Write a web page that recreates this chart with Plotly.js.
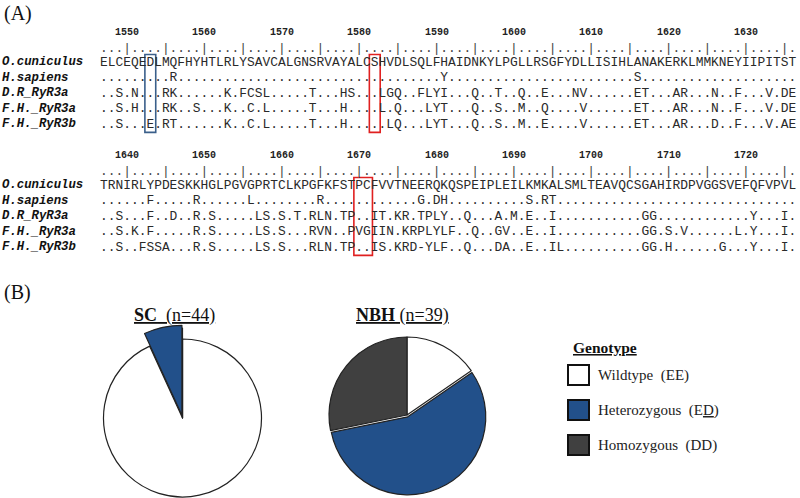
<!DOCTYPE html>
<html><head><meta charset="utf-8">
<script src="https://cdn.plot.ly/plotly-3.0.1.min.js"></script>
<style>html,body{margin:0;padding:0;overflow:hidden;background:#fff}#chart{width:800px;height:520px}</style>
</head><body><div id="chart"></div>
<script>
// ---------------- data ----------------
const species = ["O.cuniculus", "H.sapiens", "D.R_RyR3a", "F.H._RyR3a", "F.H._RyR3b"];
const block1Start = 1547;
const block1Rows = [
  ["ELCEQEDLMQ","FHYHTLRLYS","AVCALGNSRV","AYALCSHVDL","SQLFHAIDNK","YLPGLLRSGF","YDLLISIHLA","NAKERKLMMK","NEYIIPITST"],
  [".........R","..........","..........","..........","....Y.....","..........",".........S","..........",".........."],
  ["..S.N...RK","......K.FC","SL.....T..",".HS...LGQ.",".FLYI...Q.",".T..Q..E..",".NV......E","T...AR...N","..F...V.DE"],
  ["..S.H...RK","..S...K..C",".L.....T..",".H....L.Q.","..LYT...Q.",".S..M..Q..","..V......E","T...AR...N","..F...V.DE"],
  ["..S...E.RT","......K..C",".L.....T..",".H.....LQ.","..LYT...Q.",".S..M..E..","..V......E","T...AR...D","..F...V.AE"]
];
const block2Start = 1637;
const block2Rows = [
  ["TRNIRLYPDE","SKKHGLPGVG","PRTCLKPGFK","FSTPCFVVTN","EERQKQSPEI","PLEILKMKAL","SMLTEAVQCS","GAHIRDPVGG","SVEFQFVPVL"],
  ["......F...","..R......L","........R.","..........",".G.DH.....",".....S.RT.","..........","..........",".........."],
  ["..S...F..D","..R.S.....","LS.S.T.RLN",".TP..IT.KR",".TPLY..Q..",".A.M.E..I.","..........","GG........","....Y...I."],
  ["..S.K.F...","..R.S.....","LS.S...RVN","..PVGIIN.K","RPLYLF..Q.",".GV..E..I.","..........","GG.S.V....","..L.Y...I."],
  ["..S..FSSA.","..R.S.....","LS.S...RLN",".TP..IS.KR","D-YLF..Q..",".DA..E..IL","..........","GG.H......","G...Y...I."]
];
// highlighted residues: [block, first residue, last residue, colour]
const highlights = [[1, 1553, 1553, "blue"], [1, 1582, 1582, "red"], [2, 1670, 1671, "red"]];

const genotypes = ["Wildtype", "Heterozygous", "Homozygous"];
const genotypeCodes = ["(EE)", "(E<u>D</u>)", "(DD)"];
const groups = ["SC", "NBH"];
const groupN = [44, 39];
const scCounts = [41, 3, 0];
const nbhCounts = [6, 22, 11];

// ---------------- layout constants ----------------
const W = 800, H = 520;
const CW = 7.74, X0 = 100, SEQ_FS = 12.9;
const ROW_DY = 15.6;
const blocks = [
  {start: block1Start, rows: block1Rows, rowY: 62},
  {start: block2Start, rows: block2Rows, rowY: 185}
];
const MONO = "Liberation Mono, Courier New, monospace";
const SERIF = "Liberation Serif, Times New Roman, serif";
const colBlue = "#22508a", colDark = "#404040", colWhite = "#ffffff";

const annotations = [];
const shapes = [];
function ann(x, y, text, font, xanchor) {
  annotations.push({x: x, y: y, xref: "x", yref: "y", text: text, showarrow: false,
    xanchor: xanchor || "left", yanchor: "middle", borderpad: 0, borderwidth: 0, font: font});
}

ann(4, 13, "(A)", {family: SERIF, size: 20, color: "#111"});
ann(4, 292, "(B)", {family: SERIF, size: 20, color: "#111"});

blocks.forEach((b, bi) => {
  const n = b.rows[0].join("").length;
  let ruler = "";
  for (let i = 0; i < n; i++) {
    const pos = b.start + i;
    ruler += (pos % 5 === 0) ? "|" : ".";
    if (pos % 10 === 0) {
      ann(X0 + (i + 0.5) * CW, b.rowY - 30, "<b>" + pos + "</b>", {family: MONO, size: 10, color: "#222"}, "center");
    }
  }
  ann(X0, b.rowY - 14, ruler, {family: MONO, size: SEQ_FS, color: "#444"});
  b.rows.forEach((r, ri) => {
    const y = b.rowY + ri * ROW_DY;
    ann(2, y, "<b><i>" + species[ri] + "</i></b>", {family: MONO, size: 12.3, color: "#111"});
    ann(X0, y, r.join(""), {family: MONO, size: SEQ_FS, color: "#2a2a2a"});
  });
});

highlights.forEach(h => {
  const b = blocks[h[0] - 1];
  const i0 = h[1] - b.start, i1 = h[2] - b.start;
  shapes.push({type: "rect", xref: "x", yref: "y",
    x0: X0 + (i0 - 0.2) * CW, x1: X0 + (i1 + 1.2) * CW,
    y0: b.rowY - 7.5, y1: b.rowY + 4 * ROW_DY + 8,
    line: {color: h[3] === "blue" ? "#3a5f8a" : "#e02020", width: 1.6}, fillcolor: "rgba(0,0,0,0)"});
});

// group titles
ann(174, 315, "<u><b>" + groups[0] + "</b>\u00a0\u00a0(n=" + groupN[0] + ")</u>", {family: SERIF, size: 18, color: "#111"}, "center");
ann(402, 315, "<u><b>" + groups[1] + "</b>\u00a0(n=" + groupN[1] + ")</u>", {family: SERIF, size: 18, color: "#111"}, "center");

// legend
ann(605, 347, "<u><b>Genotype</b></u>", {family: SERIF, size: 15.5, color: "#111"}, "center");
const legCols = [colWhite, colBlue, colDark];
const legY = [375, 410, 445];
genotypes.forEach((g, i) => {
  shapes.push({type: "rect", xref: "x", yref: "y", x0: 568, x1: 589, y0: legY[i] - 10, y1: legY[i] + 10,
    line: {color: "#111", width: 2}, fillcolor: legCols[i]});
  ann(598, legY[i], g + "\u00a0 " + genotypeCodes[i], {family: SERIF, size: 15, color: "#222"});
});

// pies
function dom(cx, cy, half) {
  return {x: [(cx - half) / W, (cx + half) / W], y: [(H - (cy + half)) / H, (H - (cy - half)) / H]};
}
const pieCommon = {type: "pie", sort: false, direction: "clockwise", rotation: 0,
  textinfo: "none", hoverinfo: "skip", showlegend: false, labels: genotypes};
const traces = [
  Object.assign({}, pieCommon, {values: scCounts, domain: dom(182.5, 418, 79),
    marker: {colors: [colWhite, "rgba(0,0,0,0)", colDark], line: {color: ["#222", "rgba(0,0,0,0)", "#222"], width: 1.2}}}),
  Object.assign({}, pieCommon, {values: scCounts, domain: dom(182.5, 418, 90 * 1.03), pull: [0, 0.03, 0],
    marker: {colors: ["rgba(0,0,0,0)", colBlue, colDark], line: {color: ["rgba(0,0,0,0)", "#222", "#222"], width: 1.2}}}),
  Object.assign({}, pieCommon, {values: nbhCounts, domain: dom(407, 415, 78 * 1.025), pull: [0, 0.025, 0],
    marker: {colors: [colWhite, colBlue, colDark], line: {color: "#222", width: 1.2}}})
];

const layout = {
  width: W, height: H, margin: {l: 0, r: 0, t: 0, b: 0},
  paper_bgcolor: "#fff", plot_bgcolor: "#fff",
  xaxis: {range: [0, W], visible: false, fixedrange: true},
  yaxis: {range: [H, 0], visible: false, fixedrange: true},
  annotations: annotations, shapes: shapes, showlegend: false
};
Plotly.newPlot("chart", traces, layout, {displayModeBar: false, staticPlot: true});
</script></body></html>
